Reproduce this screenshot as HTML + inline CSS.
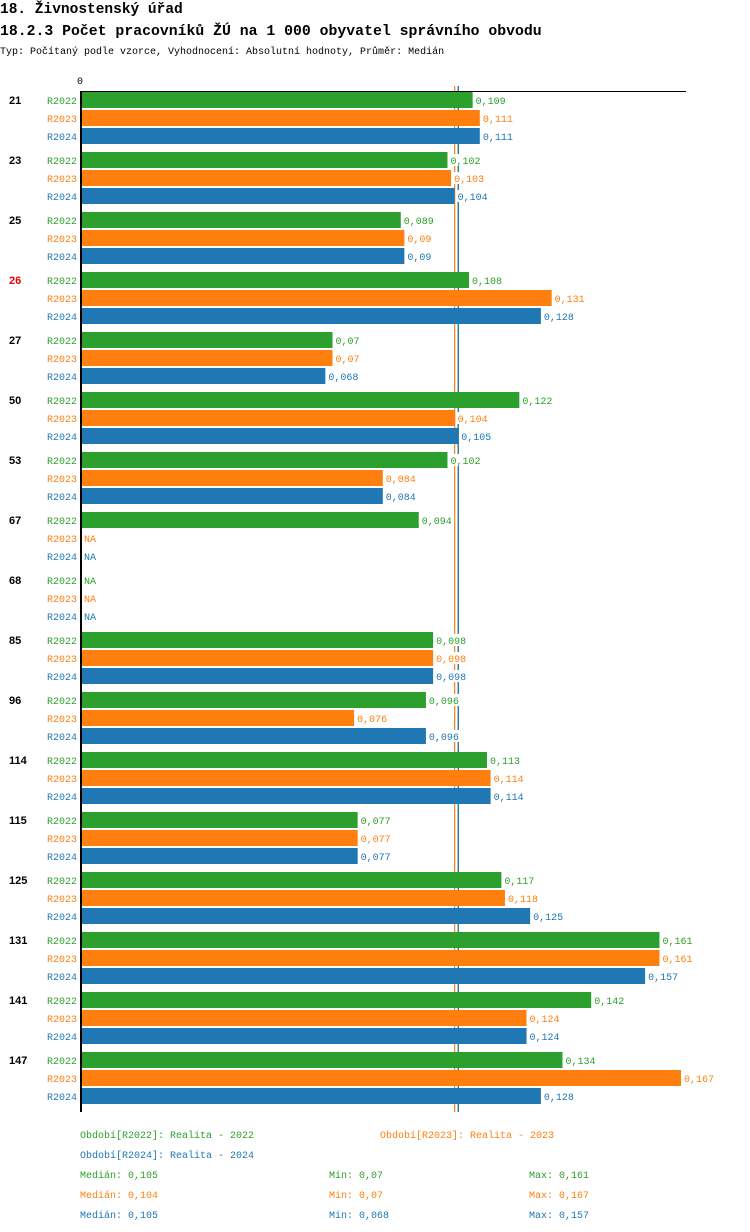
<!DOCTYPE html>
<html><head><meta charset="utf-8"><style>
body{margin:0;background:#fff;width:750px;height:1232px;overflow:hidden}
svg{display:block;font-family:"Liberation Mono",monospace}
</style></head><body>
<svg id="c" width="750" height="1232">
<text x="0" y="13" font-size="14.5" font-weight="bold" fill="#000">18. Živnostenský úřad</text>
<text x="0" y="35" font-size="14.8" font-weight="bold" fill="#000">18.2.3 Počet pracovníků ŽÚ na 1 000 obyvatel správního obvodu</text>
<text x="0" y="54" font-size="10" fill="#000">Typ: Počítaný podle vzorce, Vyhodnocení: Absolutní hodnoty, Průměr: Medián</text>
<g id="plot"></g>
</svg>
<script>
const categories=["21","23","25","26","27","50","53","67","68","85","96","114","115","125","131","141","147"];
const r2022=[0.109,0.102,0.089,0.108,0.07,0.122,0.102,0.094,null,0.098,0.096,0.113,0.077,0.117,0.161,0.142,0.134];
const r2023=[0.111,0.103,0.09,0.131,0.07,0.104,0.084,null,null,0.098,0.076,0.114,0.077,0.118,0.161,0.124,0.167];
const r2024=[0.111,0.104,0.09,0.128,0.068,0.105,0.084,null,null,0.098,0.096,0.114,0.077,0.125,0.157,0.124,0.128];
const seriesNames=["R2022","R2023","R2024"];
const medians=[0.105,0.104,0.105];
const mins=[0.07,0.07,0.068];
const maxs=[0.161,0.167,0.157];
const highlight=["26"];
const colors=["#2ca02c","#ff7f0e","#1f77b4"];
const NS="http://www.w3.org/2000/svg";
const g=document.getElementById('plot');
const x0=81,k=3593;
const X=v=>x0+v*k;
const Y=(i,s)=>100+60*i+18*s;
const fmt=v=>String(v).replace('.',',');
function mk(t,a,txt){const e=document.createElementNS(NS,t);for(const n in a)e.setAttribute(n,a[n]);if(txt!=null)e.textContent=txt;g.appendChild(e);return e;}
let e=mk('text',{x:X(0)-4,y:84,'font-size':10,fill:'#000'},'0');


medians.forEach((m,s)=>{
  e=mk('line',{x1:X(m),x2:X(m),y1:86,y2:1112,stroke:colors[s],'stroke-width':1.2});
  
  
});
const series=[r2022,r2023,r2024];
categories.forEach((c,i)=>{
  e=mk('text',{x:9,y:Y(i,0)+4,'font-size':11,'font-weight':'bold','font-family':'Liberation Sans,sans-serif',fill:highlight.includes(c)?'#e00':'#000'},c);
  
  
  series.forEach((arr,s)=>{
    const y=Y(i,s);
    e=mk('text',{x:47,y:y+4,'font-size':10,fill:colors[s]},seriesNames[s]);
    
    
    const v=arr[i];
    if(v==null){
      e=mk('text',{x:X(0)+3,y:y+4,'font-size':10,fill:colors[s]},'NA');
      
      
    }else{
      e=mk('rect',{x:X(0),y:y-8,width:X(v)-X(0),height:16,fill:colors[s]});
      
      
      e=mk('rect',{x:X(v)+1,y:y-6,width:34,height:12,fill:'#fff'});
      
      
      e=mk('text',{x:X(v)+3,y:y+4,'font-size':10,fill:colors[s]},fmt(v));
      
      
    }
  });
});
e=mk('line',{x1:X(0),x2:686,y1:91.5,y2:91.5,stroke:'#000','stroke-width':1});


e=mk('line',{x1:X(0),x2:X(0),y1:91,y2:1112,stroke:'#000','stroke-width':2});


const legPos=[[80,1138],[380,1138],[80,1158]];
const legTexts=["Období[R2022]: Realita - 2022","Období[R2023]: Realita - 2023","Období[R2024]: Realita - 2024"];
legTexts.forEach((t,s)=>{
  e=mk('text',{x:legPos[s][0],y:legPos[s][1],'font-size':10,fill:colors[s]},t);
  
  
});
medians.forEach((m,s)=>{
  const y=1178+20*s;
  e=mk('text',{x:80,y:y,'font-size':10,fill:colors[s]},'Medián: '+fmt(m));
  
  
  e=mk('text',{x:329,y:y,'font-size':10,fill:colors[s]},'Min: '+fmt(mins[s]));
  
  
  e=mk('text',{x:529,y:y,'font-size':10,fill:colors[s]},'Max: '+fmt(maxs[s]));
  
  
});
</script>
</body></html>
